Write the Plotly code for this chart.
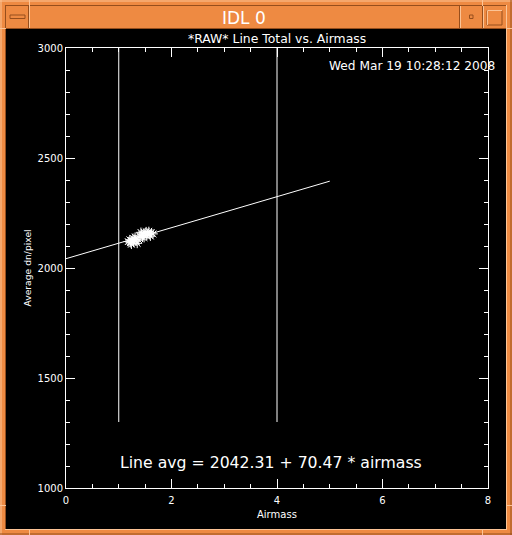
import plotly.graph_objects as go

# ---------------- data ----------------
airmass = [1.18, 1.21, 1.22, 1.25, 1.27, 1.28, 1.30, 1.33, 1.35, 1.38, 1.24, 1.31,
           1.40, 1.43, 1.45, 1.47, 1.50, 1.52, 1.53, 1.55, 1.58, 1.60, 1.62, 1.65, 1.42, 1.48, 1.57]
line_avg = [2120, 2128, 2115, 2125, 2135, 2118, 2130, 2122, 2112, 2128, 2108, 2140,
            2145, 2155, 2140, 2150, 2160, 2165, 2148, 2158, 2152, 2145, 2160, 2155, 2162, 2138, 2166]
fit_intercept = 2042.31
fit_slope = 70.47
fit_x = [0, 5]
vline_x = [1, 4]
vline_y = [1300, 3000]
x_tick_vals = [0, 2, 4, 6, 8]
x_tick_text = ["0", "2", "4", "6", "8"]
y_tick_vals = [1000, 1500, 2000, 2500, 3000]
y_tick_text = ["1000", "1500", "2000", "2500", "3000"]

title_text = "*RAW* Line Total vs. Airmass"
date_text = "Wed Mar 19 10:28:12 2008"
fit_text = "Line avg = 2042.31 + 70.47 * airmass"

# ---------------- geometry helpers ----------------
W, H = 512, 535
L, R, T, B = 66, 24, 48, 47
PW, PH = W - L - R, H - T - B


def px(x):
    return (x - L) / PW


def py(y):
    return (H - B - y) / PH


ORANGE = "rgb(238,138,66)"
LIGHT = "rgb(252,196,150)"
DARK = "rgb(150,78,28)"
WHITE = "white"
FONT = "DejaVu Sans"

fig = go.Figure()

# vertical reference lines
for vx in vline_x:
    fig.add_trace(go.Scatter(x=[vx, vx], y=vline_y, mode="lines",
                             line=dict(color=WHITE, width=1), showlegend=False, hoverinfo="skip"))

# fit line
fit_y = [fit_intercept + fit_slope * v for v in fit_x]
fig.add_trace(go.Scatter(x=fit_x, y=fit_y, mode="lines",
                         line=dict(color=WHITE, width=1), showlegend=False, hoverinfo="skip"))

# data points
fig.add_trace(go.Scatter(x=airmass, y=line_avg, mode="markers",
                         marker=dict(symbol="asterisk-open", size=8,
                                     line=dict(color=WHITE, width=1), color=WHITE),
                         showlegend=False))


def rect(x0, y0, x1, y1, fill=None, line=None, lw=1, layer="below"):
    return dict(type="rect", xref="paper", yref="paper",
                x0=px(x0), x1=px(x1), y0=py(y0), y1=py(y1),
                fillcolor=fill if fill else "rgba(0,0,0,0)",
                line=dict(color=line if line else "rgba(0,0,0,0)", width=lw if line else 0),
                layer=layer)


def seg(x0, y0, x1, y1, color, lw=1):
    return dict(type="line", xref="paper", yref="paper",
                x0=px(x0), x1=px(x1), y0=py(y0), y1=py(y1),
                line=dict(color=color, width=lw), layer="below")


shapes = [
    # black drawing area
    rect(6, 29, 506, 529, fill="black"),
    # outer bevels
    seg(0, 1, 512, 1, LIGHT), seg(1, 0, 1, 535, LIGHT),
    seg(0, 534, 512, 534, DARK), seg(511, 0, 511, 535, DARK),
    # inner border around title bar / canvas
    seg(5, 5.5, 507, 5.5, DARK), seg(5.5, 5, 5.5, 530, DARK),
    seg(5, 529.5, 507, 529.5, LIGHT), seg(506.5, 5, 506.5, 530, LIGHT),
    seg(6, 28.5, 506, 28.5, DARK),
    # title bar separators
    seg(29.5, 6, 29.5, 28, LIGHT), seg(28.5, 6, 28.5, 28, DARK),
    seg(460.5, 6, 460.5, 28, LIGHT), seg(459.5, 6, 459.5, 28, DARK),
    seg(483.5, 6, 483.5, 28, LIGHT), seg(482.5, 6, 482.5, 28, DARK),
    # frame notches
    seg(29.5, 0, 29.5, 6, LIGHT), seg(482.5, 0, 482.5, 6, LIGHT),
    seg(29.5, 529, 29.5, 535, LIGHT), seg(482.5, 529, 482.5, 535, LIGHT),
    seg(0, 28.5, 6, 28.5, LIGHT), seg(506, 28.5, 512, 28.5, LIGHT),
    seg(0, 505.5, 6, 505.5, LIGHT), seg(506, 505.5, 512, 505.5, LIGHT),
    # buttons
    rect(10, 15, 25, 18.5, fill=ORANGE, line=DARK),
    rect(469.5, 15, 473, 18.5, fill=ORANGE, line=DARK),
    rect(487, 10.5, 502, 25, fill=ORANGE, line=DARK),
    seg(487.5, 10.5, 502, 10.5, LIGHT), seg(487.5, 10.5, 487.5, 25, LIGHT),
]

annotations = [
    dict(text="IDL 0", x=px(244), y=py(18), xref="paper", yref="paper",
         showarrow=False, xanchor="center", yanchor="middle",
         font=dict(family=FONT, size=17, color=WHITE)),
    dict(text=title_text, x=px(277), y=py(38.5), xref="paper", yref="paper",
         showarrow=False, xanchor="center", yanchor="middle",
         font=dict(family=FONT, size=12.4, color=WHITE)),
    dict(text=date_text, x=px(497), y=py(66.5), xref="paper", yref="paper",
         showarrow=False, xanchor="right", yanchor="middle",
         font=dict(family=FONT, size=12.2, color=WHITE)),
    dict(text=fit_text, x=px(270.5), y=py(462), xref="paper", yref="paper",
         showarrow=False, xanchor="center", yanchor="middle",
         font=dict(family=FONT, size=15.7, color=WHITE)),
    dict(text="Airmass", x=px(277), y=py(514), xref="paper", yref="paper",
         showarrow=False, xanchor="center", yanchor="middle",
         font=dict(family=FONT, size=10, color=WHITE)),
    dict(text="Average dn/pixel", x=px(27), y=py(268.5), xref="paper", yref="paper",
         showarrow=False, xanchor="center", yanchor="middle", textangle=-90,
         font=dict(family=FONT, size=9.2, color=WHITE)),
]

axis_common = dict(showgrid=False, zeroline=False, showline=True, linecolor=WHITE, linewidth=1,
                   mirror="allticks", ticks="inside", tickcolor=WHITE, tickwidth=1, ticklen=9,
                   tickfont=dict(family=FONT, size=10, color=WHITE), tickmode="array")

fig.update_layout(
    width=W, height=H,
    margin=dict(l=L, r=R, t=T, b=B, pad=0),
    paper_bgcolor=ORANGE, plot_bgcolor="black",
    xaxis=dict(range=[0, 8], tickvals=x_tick_vals, ticktext=x_tick_text, ticklabelstandoff=3,
               minor=dict(dtick=0.5, ticks="inside", ticklen=4, tickcolor=WHITE, tickwidth=1),
               **axis_common),
    yaxis=dict(range=[1000, 3000], tickvals=y_tick_vals, ticktext=y_tick_text,
               minor=dict(dtick=100, ticks="inside", ticklen=4, tickcolor=WHITE, tickwidth=1),
               **axis_common),
    shapes=shapes,
    annotations=annotations,
    showlegend=False,
)

fig.write_html("out.html", config={"displayModeBar": False},
               post_script="document.body.style.margin='0';document.body.style.overflow='hidden';")
